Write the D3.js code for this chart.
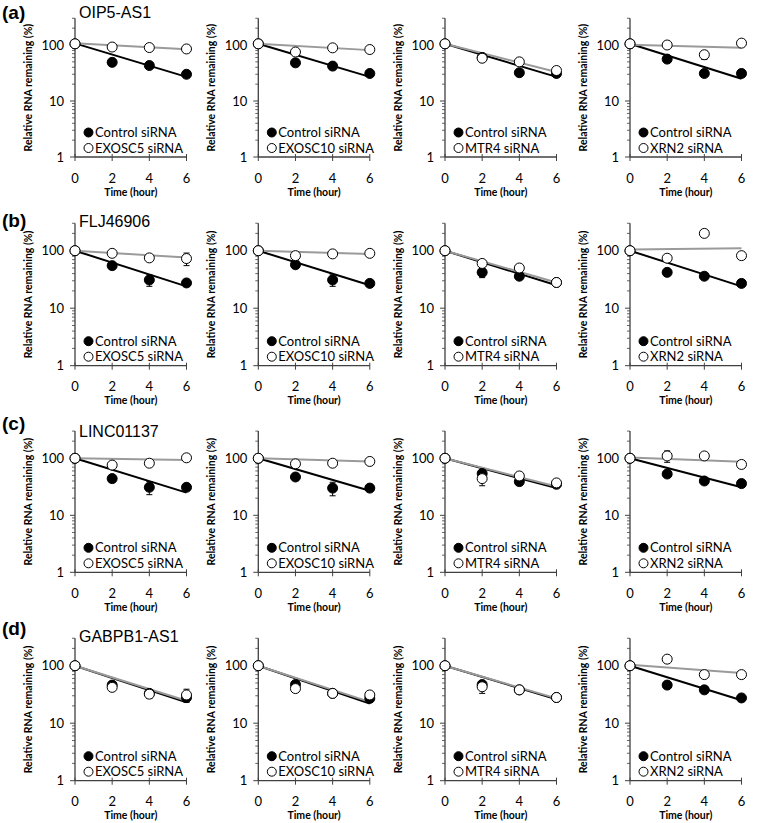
<!DOCTYPE html>
<html>
<head>
<meta charset="utf-8">
<script src="https://cdn.jsdelivr.net/npm/d3@7"></script>
<style>
  body { margin: 0; background: #fff; }
  .tick-label { font-family: Lato, "Liberation Sans", sans-serif; font-size: 13px; fill: #000; }
  .legend { font-family: Lato, "Liberation Sans", sans-serif; font-size: 13px; fill: #000; }
  .axis-title { font-family: Lato, "Liberation Sans", sans-serif; font-size: 10.5px; font-weight: bold; }
  .gene { font-family: "Liberation Sans", Arial, sans-serif; font-size: 16px; }
  .letter { font-family: "Liberation Sans", Arial, sans-serif; font-size: 19px; font-weight: bold; }
</style>
</head>
<body>
<div id="chart"></div>
<script>
// time points and tick values
var times = [0, 2, 4, 6];
var xTicks = [0, 2, 4, 6];
var yTicks = [1, 10, 100];

var rowLetters = ["(a)", "(b)", "(c)", "(d)"];
var genes = ["OIP5-AS1", "FLJ46906", "LINC01137", "GABPB1-AS1"];
var controlLabel = "Control siRNA";
var knockdowns = ["EXOSC5 siRNA", "EXOSC10 siRNA", "MTR4 siRNA", "XRN2 siRNA"];

// relative RNA remaining (%) per row (gene), per column (knockdown)
var controlValues = [
    [[105, 49, 43, 30], [105, 48, 42, 31], [105, 60, 32, 31], [105, 56, 31, 31]],
    [[100, 55, 31, 27.5], [100, 57, 31, 27], [100, 42, 36, 28], [100, 42, 36, 27]],
    [[100, 44, 31, 31], [100, 47, 30, 30], [100, 54, 39, 35], [100, 53, 40, 36]],
    [[100, 46, 33, 28], [100, 47, 33, 27], [100, 47, 38, 28], [100, 46, 38, 27.5]]
];
var knockdownValues = [
    [[105, 92, 90, 85], [105, 75, 89, 83], [105, 58, 50, 35], [105, 100, 67, 108]],
    [[100, 90, 75, 73], [100, 82, 88, 90], [100, 60, 50, 28], [100, 74, 200, 82]],
    [[100, 76, 82, 102], [100, 80, 82, 88], [100, 44, 49, 37], [100, 110, 110, 78]],
    [[100, 42, 32, 31], [100, 40, 33, 31], [100, 43, 38, 28], [100, 130, 70, 70]]
];
// error bars (same units, 0 = none visible)
var controlErrors = [
    [[5, 0, 0, 0], [5, 0, 0, 0], [0, 0, 0, 0], [0, 0, 0, 0]],
    [[0, 0, 7, 0], [0, 0, 7, 0], [0, 8, 0, 0], [0, 0, 0, 0]],
    [[0, 0, 8, 0], [0, 0, 8, 0], [0, 0, 0, 0], [0, 0, 0, 0]],
    [[0, 0, 0, 0], [0, 0, 0, 4], [0, 0, 0, 0], [0, 0, 0, 0]]
];
var knockdownErrors = [
    [[0, 0, 0, 0], [0, 0, 0, 0], [0, 0, 0, 0], [0, 0, 12, 0]],
    [[0, 0, 0, 18], [0, 0, 0, 0], [0, 0, 0, 0], [0, 0, 0, 0]],
    [[0, 0, 0, 0], [0, 0, 0, 0], [0, 11, 0, 0], [0, 25, 8, 0]],
    [[0, 0, 5, 8], [0, 0, 5, 0], [0, 10, 0, 0], [0, 0, 0, 0]]
];
// exponential trendlines: value at time 0 and at time 6
var controlFits = [
    [[107, 27], [105, 27], [105, 27], [105, 25]],
    [[100, 24], [100, 25], [100, 25], [100, 24]],
    [[100, 25], [100, 27], [100, 30], [100, 31]],
    [[100, 23], [100, 22], [100, 26], [100, 25]]
];
var knockdownFits = [
    [[107, 84], [105, 81], [105, 33], [101, 89]],
    [[100, 76], [100, 88], [100, 28], [105, 110]],
    [[100, 93], [100, 88], [100, 32], [103, 87]],
    [[100, 24.5], [100, 23.5], [100, 27], [104, 75]]
];

function init() {
    var w = 760;
    var h = 823;

    // layout: where value 100 sits in each row, and pixels per decade
    var rowY100 = [45, 250.7, 458.3, 665.7];
    var decade = [56, 57.5, 57, 57.5];
    var colX = [75, 258.3, 445, 630];
    var plotW = 111.5;
    var legendOffset = [-24.5, -9];
    var letterY = [-26, -24, -28, -31];
    var geneY = [-27, -24, -21.6, -24];

    var svg = d3.select("#chart")
                .append("svg")
                .attr("width", w)
                .attr("height", h);

    var axisColor = "#404040";

    genes.forEach(function(gene, r) {
        var y1 = rowY100[r] + 2 * decade[r];
        var yTop = rowY100[r] - Math.log10(3) * decade[r];

        svg.append("text")
            .attr("class", "letter")
            .attr("x", 2)
            .attr("y", rowY100[r] + letterY[r])
            .text(rowLetters[r]);

        svg.append("text")
            .attr("class", "gene")
            .attr("x", colX[0] + 4)
            .attr("y", rowY100[r] + geneY[r])
            .text(gene);

        knockdowns.forEach(function(kd, c) {
            var x0 = colX[c];
            var xScale = d3.scaleLinear().domain([0, 6]).range([x0, x0 + plotW]);
            var yScale = d3.scaleLog().domain([1, 300]).range([y1, yTop]);

            var g = svg.append("g");

            // y axis line + ticks
            g.append("line")
                .attr("x1", x0).attr("x2", x0)
                .attr("y1", yScale(1)).attr("y2", yScale(300))
                .attr("stroke", axisColor).attr("stroke-width", 1.3);

            var minor = [];
            [1, 10, 100].forEach(function(base) {
                for (var m = 2; m <= 9; m++) {
                    if (base * m <= 300) minor.push(base * m);
                }
            });
            g.selectAll(".minor")
                .data(minor)
                .enter().append("line")
                .attr("x1", x0 - 3).attr("x2", x0)
                .attr("y1", function(d) { return yScale(d); })
                .attr("y2", function(d) { return yScale(d); })
                .attr("stroke", axisColor).attr("stroke-width", 0.8);

            g.selectAll(".major")
                .data(yTicks)
                .enter().append("line")
                .attr("x1", x0 - 5).attr("x2", x0)
                .attr("y1", function(d) { return yScale(d); })
                .attr("y2", function(d) { return yScale(d); })
                .attr("stroke", axisColor).attr("stroke-width", 1);

            g.selectAll(".ylab")
                .data(yTicks)
                .enter().append("text")
                .attr("class", "tick-label")
                .attr("x", x0 - 11)
                .attr("y", function(d) { return yScale(d) + 4.5; })
                .attr("text-anchor", "end")
                .text(function(d) { return d; });

            // x axis at value 1
            g.append("line")
                .attr("x1", xScale(0)).attr("x2", xScale(6))
                .attr("y1", y1).attr("y2", y1)
                .attr("stroke", axisColor).attr("stroke-width", 1.3);

            g.selectAll(".xtick")
                .data(xTicks)
                .enter().append("line")
                .attr("x1", function(d) { return xScale(d); })
                .attr("x2", function(d) { return xScale(d); })
                .attr("y1", y1 - 3).attr("y2", y1 + 4)
                .attr("stroke", axisColor).attr("stroke-width", 1);

            g.selectAll(".xlab")
                .data(xTicks)
                .enter().append("text")
                .attr("class", "tick-label")
                .attr("x", function(d) { return xScale(d); })
                .attr("y", y1 + 25.5)
                .attr("text-anchor", "middle")
                .text(function(d) { return d; });

            g.append("text")
                .attr("class", "axis-title")
                .attr("x", x0 + plotW / 2)
                .attr("y", y1 + 38.5)
                .attr("text-anchor", "middle")
                .text("Time (hour)");

            g.append("text")
                .attr("class", "axis-title")
                .attr("transform", "translate(" + (x0 - 43) + "," + ((y1 + yTop) / 2) + ") rotate(-90)")
                .attr("text-anchor", "middle")
                .text("Relative RNA remaining (%)");

            // trendlines
            var fitLine = d3.line()
                .x(function(d) { return xScale(d[0]); })
                .y(function(d) { return yScale(d[1]); });

            g.append("path")
                .datum([[0, controlFits[r][c][0]], [6, controlFits[r][c][1]]])
                .attr("d", fitLine)
                .attr("stroke", "#000").attr("stroke-width", 2).attr("fill", "none");

            g.append("path")
                .datum([[0, knockdownFits[r][c][0]], [6, knockdownFits[r][c][1]]])
                .attr("d", fitLine)
                .attr("stroke", "#9a9a9a").attr("stroke-width", 2).attr("fill", "none");

            // error bars + points
            function drawSeries(vals, errs, filled) {
                var pts = times.map(function(t, i) { return { t: t, v: vals[i], e: errs[i] }; });
                var withErr = pts.filter(function(p) { return p.e > 0; });
                g.selectAll(null)
                    .data(withErr)
                    .enter().append("path")
                    .attr("d", function(p) {
                        var x = xScale(p.t);
                        var ya = yScale(p.v + p.e), yb = yScale(Math.max(p.v - p.e, 1));
                        return "M" + x + "," + ya + "V" + yb +
                               "M" + (x - 3) + "," + ya + "H" + (x + 3) +
                               "M" + (x - 3) + "," + yb + "H" + (x + 3);
                    })
                    .attr("stroke", "#000").attr("stroke-width", 1).attr("fill", "none");
                g.selectAll(null)
                    .data(pts)
                    .enter().append("circle")
                    .attr("cx", function(p) { return xScale(p.t); })
                    .attr("cy", function(p) { return yScale(p.v); })
                    .attr("r", 5)
                    .attr("fill", filled ? "#000" : "#fff")
                    .attr("stroke", "#000").attr("stroke-width", 1);
            }
            drawSeries(controlValues[r][c], controlErrors[r][c], true);
            drawSeries(knockdownValues[r][c], knockdownErrors[r][c], false);

            // legend
            var labels = [controlLabel, kd];
            labels.forEach(function(lab, i) {
                var ly = y1 + legendOffset[i];
                g.append("circle")
                    .attr("cx", x0 + 13.5).attr("cy", ly)
                    .attr("r", 4.5)
                    .attr("fill", i === 0 ? "#000" : "#fff")
                    .attr("stroke", "#000").attr("stroke-width", 1);
                g.append("text")
                    .attr("class", "legend")
                    .attr("x", x0 + 20)
                    .attr("y", ly + 4.5)
                    .text(lab);
            });
        });
    });
}

window.onload = init;
</script>
</body>
</html>
